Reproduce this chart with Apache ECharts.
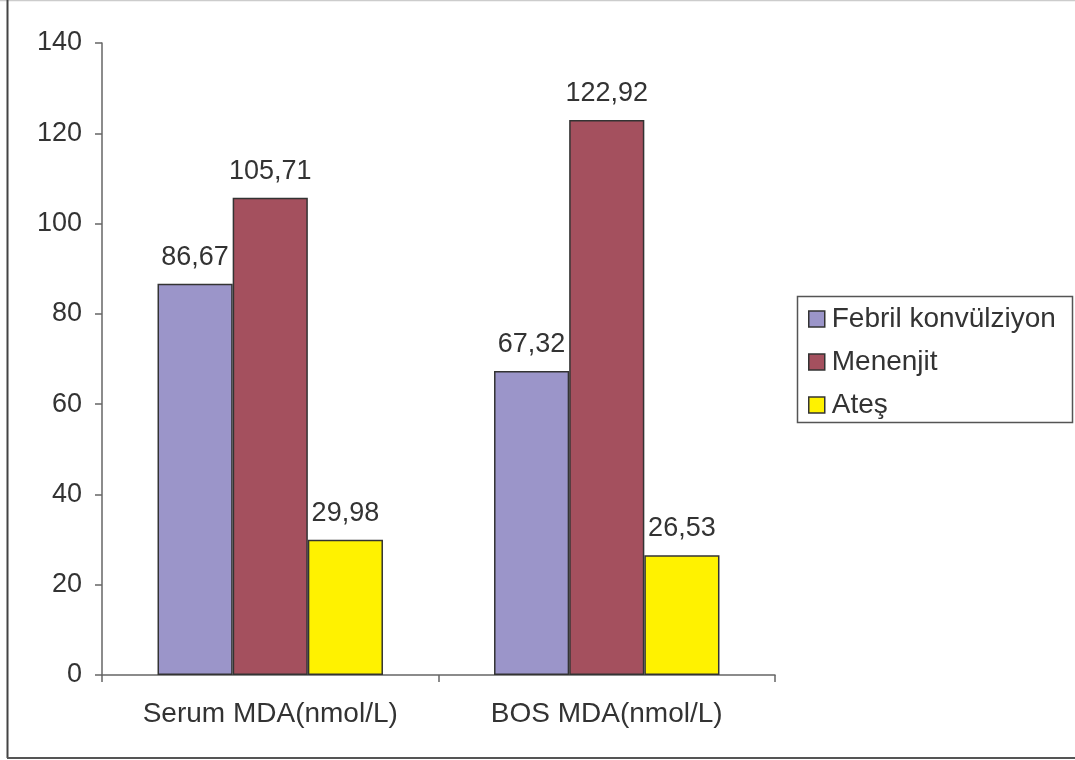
<!DOCTYPE html>
<html>
<head>
<meta charset="utf-8">
<script src="https://cdn.jsdelivr.net/npm/echarts@6/dist/echarts.min.js"></script>
<style>
  html, body { margin: 0; padding: 0; background: #fff; }
  #chart { width: 1075px; height: 760px; }
</style>
</head>
<body>
<div id="chart"></div>
<script>
// Categories and measured MDA values per group
const categories = ['Serum MDA(nmol/L)', 'BOS MDA(nmol/L)'];
const febrilKonvulziyon = [86.67, 67.32];
const menenjit = [105.71, 122.92];
const ates = [29.98, 26.53];
const yTicks = { min: 0, max: 140, interval: 20 };

const FONT = 'Liberation Sans, Arial, sans-serif';
const TEXT = '#333333';
const FS = 27;

function fmt(v) {
  return v.toFixed(2).replace('.', ',');
}

function barSeries(name, data, color) {
  return {
    name: name,
    type: 'bar',
    data: data,
    barGap: '0%',
    barCategoryGap: '33%',
    itemStyle: { color: color, borderColor: '#333333', borderWidth: 1.5 },
    label: {
      show: true,
      position: 'top',
      distance: 13,
      formatter: p => fmt(p.value),
      fontFamily: FONT,
      fontSize: FS,
      color: TEXT
    },
    emphasis: { disabled: true }
  };
}

const chart = echarts.init(document.getElementById('chart'), null, { renderer: 'canvas' });
chart.setOption({
  animation: false,
  backgroundColor: '#ffffff',
  grid: { left: 102, right: 300, top: 43, bottom: 85, containLabel: false },
  legend: {
    orient: 'vertical',
    left: 808,
    top: 305,
    padding: 0,
    itemWidth: 16,
    itemHeight: 16,
    itemGap: 15,
    icon: 'rect',
    itemStyle: { borderColor: '#333333', borderWidth: 1.5 },
    textStyle: { fontFamily: FONT, fontSize: 28, color: TEXT, padding: [0, 0, 0, 2] },
    data: ['Febril konvülziyon', 'Menenjit', 'Ateş']
  },
  xAxis: {
    type: 'category',
    data: categories,
    axisLine: { lineStyle: { color: '#666666', width: 1.5 } },
    axisTick: { show: true, length: 7, lineStyle: { color: '#666666', width: 1.5 } },
    axisLabel: { fontFamily: FONT, fontSize: 28, color: TEXT, margin: 25 }
  },
  yAxis: {
    type: 'value',
    min: yTicks.min,
    max: yTicks.max,
    interval: yTicks.interval,
    axisLine: { show: true, lineStyle: { color: '#666666', width: 1.5 } },
    axisTick: { show: true, length: 7, lineStyle: { color: '#666666', width: 1.5 } },
    splitLine: { show: false },
    axisLabel: { fontFamily: FONT, fontSize: FS, color: TEXT, margin: 20 }
  },
  series: [
    barSeries('Febril konvülziyon', febrilKonvulziyon, '#9b95c9'),
    barSeries('Menenjit', menenjit, '#a4505e'),
    barSeries('Ateş', ates, '#fff200')
  ],
  graphic: [
    // legend frame
    { type: 'rect', shape: { x: 797.5, y: 296.5, width: 275, height: 126 },
      style: { fill: 'none', stroke: '#555555', lineWidth: 1.5 }, z: 0 },
    // outer frame
    { type: 'line', shape: { x1: 0, y1: 0.5, x2: 1075, y2: 0.5 },
      style: { stroke: '#cccccc', lineWidth: 1.5 } },
    { type: 'line', shape: { x1: 7.5, y1: 0, x2: 7.5, y2: 758 },
      style: { stroke: '#444444', lineWidth: 2 } },
    { type: 'line', shape: { x1: 7, y1: 758, x2: 1075, y2: 758 },
      style: { stroke: '#555555', lineWidth: 2 } }
  ]
});
</script>
</body>
</html>
